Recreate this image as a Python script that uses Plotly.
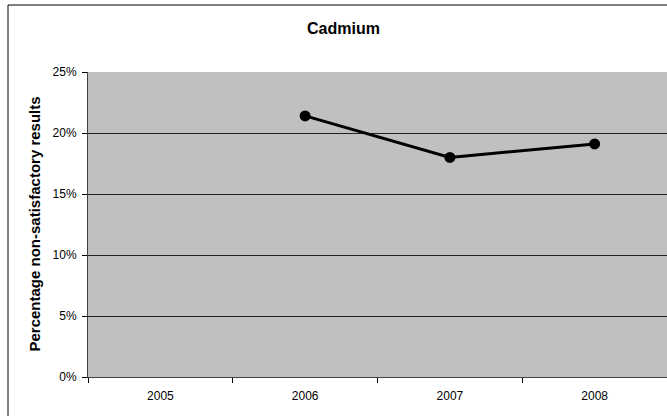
import plotly.graph_objects as go

categories = ["2005", "2006", "2007", "2008"]
values = [None, 0.214, 0.180, 0.191]
y_ticks = [0, 0.05, 0.10, 0.15, 0.20, 0.25]
y_tick_labels = ["0%", "5%", "10%", "15%", "20%", "25%"]

fig = go.Figure()
fig.add_trace(go.Scatter(
    x=categories, y=values, mode="lines+markers",
    line=dict(color="black", width=3),
    marker=dict(color="black", size=11),
    connectgaps=False, showlegend=False, cliponaxis=False,
))

font_family = "Liberation Sans, Arial, sans-serif"
fig.update_layout(
    width=667, height=416,
    margin=dict(l=88, r=0, t=72, b=39),
    paper_bgcolor="white",
    plot_bgcolor="#C0C0C0",
    font=dict(family=font_family, size=12, color="black"),
    title=dict(text="<b>Cadmium</b>", x=343.5 / 667, xref="container", xanchor="center",
               y=1 - 28.5 / 416, yref="container", yanchor="middle",
               font=dict(family=font_family, size=16, color="black")),
    xaxis=dict(
        type="category", categoryorder="array", categoryarray=categories,
        range=[-0.5, 3.5], tickson="boundaries", ticks="outside", ticklen=5,
        tickcolor="black", showgrid=False, showline=True, linecolor="#404040",
        linewidth=1, zeroline=False, tickfont=dict(size=12, color="black"),
        ticklabelstandoff=8,
    ),
    yaxis=dict(
        range=[0, 0.25], tickvals=y_ticks, ticktext=y_tick_labels,
        ticks="outside", ticklen=5, tickcolor="black",
        showgrid=True, gridcolor="#202020", gridwidth=1,
        showline=True, linecolor="#404040", linewidth=1, zeroline=False,
        tickfont=dict(size=12, color="black"),
        ticklabelstandoff=3,
    ),
    shapes=[dict(type="rect", xref="paper", yref="paper",
                 x0=(8 - 88) / 579, x1=1.2, y0=-0.3, y1=(377 - 5) / 305,
                 line=dict(color="black", width=1), fillcolor="rgba(0,0,0,0)",
                 layer="above")],
    annotations=[dict(text="<b>Percentage non-satisfactory results</b>",
                      xref="paper", yref="paper", x=(34 - 88) / 579, y=0.5,
                      textangle=-90, showarrow=False, xanchor="center", yanchor="middle",
                      font=dict(family=font_family, size=15, color="black"))],
)

fig.write_html("out.html", config={"displayModeBar": False},
               post_script="document.body.style.margin='0';")
